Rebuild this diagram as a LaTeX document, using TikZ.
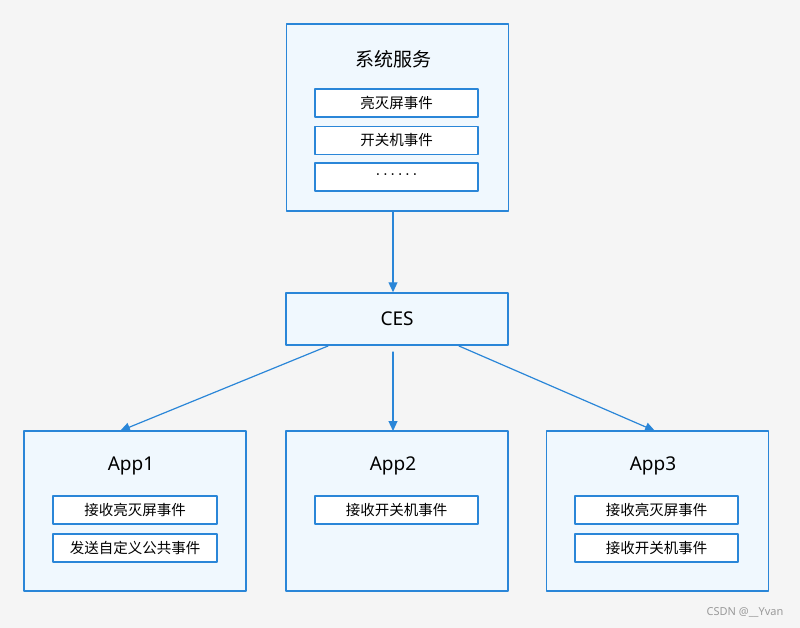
\documentclass[tikz,border=0pt]{standalone}
\usepackage{fontspec}
\setmainfont{Noto Sans CJK SC}
\newfontfamily\latinfont{Noto Sans}
\usetikzlibrary{arrows.meta}

\definecolor{edgeblue}{HTML}{2A86D8}
\definecolor{boxfill}{HTML}{F0F8FE}
\definecolor{pagebg}{HTML}{F5F5F5}
\definecolor{markgray}{HTML}{9A9A9A}

\tikzset{
  outerbox/.style={draw=edgeblue,fill=boxfill,line width=1.5pt,inner sep=0pt,
    minimum width=222pt,minimum height=160pt},
  evbox/.style={draw=edgeblue,fill=white,line width=1.5pt,inner sep=0pt,
    minimum width=163pt,minimum height=28pt,font=\fontsize{14.5}{16}\selectfont},
  titletxt/.style={font=\fontsize{19}{22}\selectfont},
  apptxt/.style={font=\latinfont\fontsize{19}{22}\selectfont},
  link/.style={->,draw=edgeblue,line width=1.2pt}
}

\begin{document}
\begin{tikzpicture}[line cap=round,line join=round,>={Triangle[length=10pt,width=9pt]},x=1pt,y=-1pt]
\fill[pagebg] (0,0) rectangle (800,628);
\useasboundingbox (0,0) rectangle (800,628);

% system service
\node[outerbox,minimum height=187pt] (sys) at (397.5,117.5) {};
\node[titletxt] (systitle) at (393,59) {系统服务};
\node[evbox] (sysscreen) at (396.5,103) {亮灭屏事件};
\node[evbox] (syspower) at (396.5,140.5) {开关机事件};
\node[evbox,font=\latinfont\fontsize{14}{16}\selectfont] (sysmore) at (396.5,177) {· · · · · ·};

% CES
\node[outerbox,minimum height=52pt,apptxt] (ces) at (397,319) {CES};

% apps
\node[outerbox] (app1) at (135,511) {};
\node[apptxt] (app1title) at (131,466) {App1};
\node[evbox,minimum width=164pt] (app1recv) at (135,510) {接收亮灭屏事件};
\node[evbox,minimum width=164pt] (app1send) at (135,548) {发送自定义公共事件};

\node[outerbox] (app2) at (397,511) {};
\node[apptxt] (app2title) at (393,466) {App2};
\node[evbox] (app2recv) at (396.5,510) {接收开关机事件};

\node[outerbox] (app3) at (657.5,511) {};
\node[apptxt] (app3title) at (653,466) {App3};
\node[evbox] (app3screen) at (656.5,510) {接收亮灭屏事件};
\node[evbox] (app3power) at (656.5,548) {接收开关机事件};

% connectors
\coordinate (cesleft) at (328,346);
\coordinate (cesmid) at (393,352);
\coordinate (cesright) at (459,346);
\coordinate (app1top) at (120,431);
\coordinate (app2top) at (393,431);
\coordinate (app3top) at (655,431);
\draw[link] (sys.south -| cesmid) -- (ces.north -| cesmid);
\draw[link] (cesleft) -- (app1top);
\draw[link] (cesmid) -- (app2top);
\draw[link] (cesright) -- (app3top);

\node[text=markgray,font=\latinfont\fontsize{11}{13}\selectfont] (mark) at (745,612) {CSDN @\_\_Yvan};
\end{tikzpicture}
\end{document}
